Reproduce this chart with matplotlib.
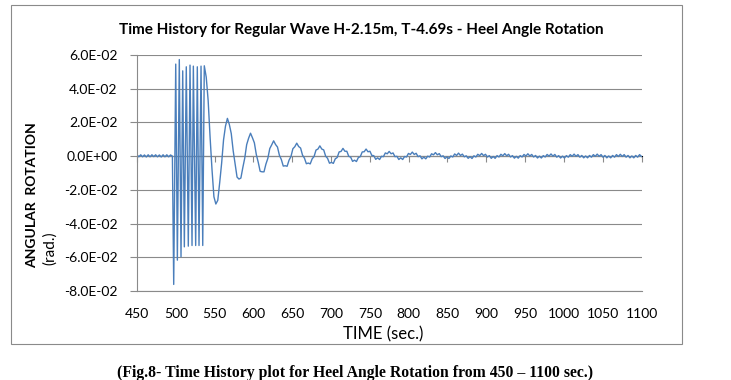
import numpy as np
import matplotlib.pyplot as plt
from matplotlib.patches import Rectangle
from matplotlib.ticker import FuncFormatter

# heel angle, values in 1e-3 rad
pre_start, pre_end = 450.0, 495.6
pre_v = [0.8, -0.4, 0.8, -0.4, 0.7, -0.5, 0.8, -0.4, 0.8, -0.3,
         0.8, -0.4, 0.7, -0.5, 0.8, -0.4, 0.8, -0.4, 0.7, 0.0]

burst_t = [497.3, 499.9, 502.0, 504.5, 506.7, 508.9, 511.0, 513.5, 516.1,
           518.3, 520.9, 522.6, 525.6, 527.7, 529.9, 532.5, 534.7]
burst_v = [-76.1, 54.6, -61.7, 57.3, -59.7, 50.6, -53.8, 53.0, -53.4,
           54.0, -53.0, 53.4, -53.0, 53.0, -53.0, 53.4, -53.0]

decay_start, decay_end = 536.7, 1100.0
decay_v = [
    53.6, 46.9, 33.1, 11.4, -7.9, -24.1,
    -28.4, -26.2, -15.7, -4.2, 9.7, 17.8,
    22.4, 18.8, 13.4, 3.2, -4.6, -12.4,
    -13.6, -13.0, -6.8, -1.2, 6.8, 10.6,
    13.6, 10.9, 7.9, 1.0, -3.6, -9.0,
    -9.3, -9.3, -4.7, -1.3, 4.5, 6.7,
    9.1, 6.9, 5.4, 0.5, -2.0, -5.9,
    -5.7, -6.0, -2.4, -0.2, 4.4, 5.6,
    7.7, 5.7, 4.8, 0.6, -1.2, -4.5,
    -4.1, -4.6, -1.6, -0.2, 3.6, 4.2,
    6.1, 4.2, 3.7, 0.0, -1.3, -4.2,
    -3.7, -4.3, -1.6, -0.8, 2.5, 2.8,
    4.6, 2.9, 2.9, -0.1, -0.6, -3.1,
    -2.4, -3.2, -0.8, -0.3, 2.5, 2.6,
    4.2, 2.6, 2.9, 0.4, 0.3, -1.9,
    -1.0, -2.0, -0.1, -0.3, 1.9, 1.4,
    2.8, 1.4, 1.9, -0.3, -0.1, -2.0,
    -1.0, -2.0, -0.2, -0.5, 1.6, 1.0,
    2.4, 1.0, 1.7, -0.3, 0.2, -1.6,
    -0.6, -1.6, 0.0, -0.5, 1.4, 0.8,
    2.1, 0.8, 1.5, -0.3, 0.2, -1.4,
    -0.4, -1.4, 0.1, -0.5, 1.3, 0.4,
    1.8, 0.4, 1.2, -0.4, 0.2, -1.3,
    -0.3, -1.4, 0.2, -0.5, 1.1, 0.3,
    1.6, 0.3, 1.1, -0.5, 0.3, -1.3,
    -0.2, -1.3, 0.3, -0.5, 1.1, 0.2,
    1.5, 0.2, 1.1, -0.5, 0.3, -1.2,
    -0.1, -1.2, 0.3, -0.5, 1.0, 0.1,
    1.4, 0.1, 1.0, -0.5, 0.4, -1.1,
    0.0, -1.1, 0.3, -0.5, 1.0, 0.0,
    1.3, 0.0, 1.0, -0.6, 0.3, -1.1,
    0.0, -1.1, 0.3, -0.6, 0.9, -0.1,
    1.2, -0.1, 0.9, -0.6, 0.4, -1.0,
    0.1, -1.0, 0.4, -0.6, 0.9, -0.1,
    1.2, -0.1, 0.9, -0.6, 0.4, -1.0,
    0.1, -1.0, 0.4, -0.6, 0.9, -0.2,
    1.1, -0.2, 0.9, -0.6, 0.4, -1.0,
    0.1, -1.0, 0.4, -0.6, 0.9, -0.2,
]

x_ticks = np.arange(450, 1101, 50)
y_ticks = [-0.08, -0.06, -0.04, -0.02, 0.0, 0.02, 0.04, 0.06]

pre_t = np.linspace(pre_start, pre_end, len(pre_v))
decay_t = np.linspace(decay_start, decay_end, len(decay_v))
t = np.concatenate([pre_t, burst_t, decay_t])
heel = np.concatenate([pre_v, burst_v, decay_v]) * 1e-3

grey = '#8a8a8a'
font = 'Lato'

fig = plt.figure(figsize=(7.31, 3.80), dpi=100)
ax = fig.add_axes([137 / 731, 1 - 291 / 380, 504.5 / 731, 236 / 380])

ax.plot(t, heel, color='#4a7ebb', lw=1.0)

ax.set_xlim(450, 1100)
ax.set_ylim(-0.08, 0.06)
ax.set_xticks(x_ticks)
ax.set_yticks(y_ticks)
ax.yaxis.set_major_formatter(FuncFormatter(lambda v, p: f"{v:.1E}"))
ax.grid(axis='y', color=grey, lw=0.8)
ax.set_axisbelow(True)

for s in ['top', 'right']:
    ax.spines[s].set_visible(False)
ax.spines['left'].set_color(grey)
ax.spines['bottom'].set_color(grey)
ax.tick_params(axis='y', length=5, color=grey, labelsize=10, pad=9)
ax.tick_params(axis='x', length=0, labelsize=10, pad=12)
for lab in ax.get_xticklabels() + ax.get_yticklabels():
    lab.set_fontfamily(font)

# axis line at zero with the small tick marks
zero_ax = ax.secondary_xaxis(0.08 / 0.14)
zero_ax.set_xticks(x_ticks)
zero_ax.xaxis.set_ticks_position('bottom')
zero_ax.set_xticklabels([])
zero_ax.tick_params(length=4, color=grey, direction='out',
                    labelbottom=False, labeltop=False)
zero_ax.spines['bottom'].set_color(grey)

fig.text(361 / 731, 1 - 30 / 380,
         'Time History for Regular Wave H-2.15m, T-4.69s - Heel Angle Rotation',
         ha='center', va='center', fontsize=11, fontweight='bold', family=font)
fig.text(383 / 731, 1 - 334 / 380, 'TIME (sec.)', ha='center', va='center',
         fontsize=12, family=font)
fig.text(32 / 731, 1 - 268 / 380, 'ANGULAR  ROTATION', rotation=90,
         ha='center', va='bottom', fontsize=10, fontweight='bold', family=font)
fig.text(50 / 731, 1 - 265 / 380, '(rad.)', rotation=90,
         ha='center', va='bottom', fontsize=11, family=font)

fig.patches.append(Rectangle((11 / 731, 1 - 344 / 380), 671 / 731, 339 / 380,
                             transform=fig.transFigure, fill=False,
                             edgecolor=grey, lw=0.8))

fig.text(117 / 731, 1 - 373 / 380,
         '(Fig.8- Time History plot for Heel Angle Rotation from 450 \u2013 1100 sec.)',
         ha='left', va='center', fontsize=11.3, fontweight='bold',
         family='Liberation Serif')

fig.savefig('out.png', dpi=100)
